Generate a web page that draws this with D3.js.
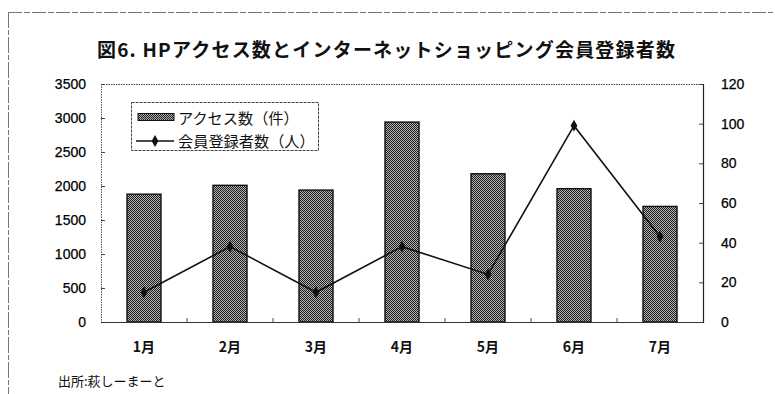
<!DOCTYPE html>
<html><head><meta charset="utf-8">
<script src="https://cdn.jsdelivr.net/npm/d3@7"></script>
<style>
body{margin:0;background:#fff;}
svg{display:block;}
</style></head>
<body>
<svg id="c" width="775" height="394"></svg>
<script>
const titleText = "図6. HPアクセス数とインターネットショッピング会員登録者数";
const months = ["1月","2月","3月","4月","5月","6月","7月"];
const accessCounts = [1880, 2010, 1940, 2940, 2180, 1960, 1700];
const memberCounts = [15, 38, 15, 38, 24, 99, 43];
const leftTicks = [0,500,1000,1500,2000,2500,3000,3500];
const rightTicks = [0,20,40,60,80,100,120];
const seriesNames = ["アクセス数（件）", "会員登録者数（人）"];
const sourceText = "出所:萩しーまーと";

const svg = d3.select("#c");
const W = 775, H = 394;
const m = {l:101, r:703, t:84, b:322};
const numFont = "'Liberation Sans', Arial, sans-serif";
const jpFont = "'Noto Sans CJK JP', sans-serif";

// pattern
const defs = svg.append("defs");
const pat = defs.append("pattern").attr("id","chk").attr("width",2).attr("height",2)
  .attr("patternUnits","userSpaceOnUse");
pat.append("rect").attr("width",2).attr("height",2).attr("fill","#b4b4b4");
pat.append("rect").attr("width",1).attr("height",1).attr("fill","#1e1e1e");
pat.append("rect").attr("x",1).attr("y",1).attr("width",1).attr("height",1).attr("fill","#1e1e1e");

// outer frame
svg.append("line").attr("x1",8).attr("x2",773).attr("y1",12.5).attr("y2",12.5)
  .attr("stroke","#777").attr("stroke-width",1).attr("stroke-dasharray","14 2 6 2");
svg.append("line").attr("x1",8.5).attr("x2",8.5).attr("y1",12).attr("y2",H)
  .attr("stroke","#777").attr("stroke-width",1).attr("stroke-dasharray","16 2 5 2");

// title
svg.append("text").attr("x",97).attr("y",57)
  .attr("textLength",578).attr("lengthAdjust","spacing")
  .attr("font-family",jpFont).attr("font-weight","bold").attr("font-size",19)
  .attr("fill","#111").text(titleText);

const xc = d3.scalePoint().domain(months).range([m.l, m.r]).padding(0.5);
const yL = d3.scaleLinear().domain([0,3500]).range([m.b, m.t]);
const yR = d3.scaleLinear().domain([0,120]).range([m.b, m.t]);

// plot border (dotted top & left)
svg.append("line").attr("x1",m.l).attr("x2",m.r).attr("y1",m.t+0.5).attr("y2",m.t+0.5)
  .attr("stroke","#444").attr("stroke-dasharray","1.5 1");
svg.append("line").attr("x1",m.l+0.5).attr("x2",m.l+0.5).attr("y1",m.t).attr("y2",m.b)
  .attr("stroke","#555").attr("stroke-dasharray","1.5 1");

// bars
const bw = 34;
svg.append("g").selectAll("rect").data(accessCounts).join("rect")
  .attr("x",(d,i)=>xc(months[i]) - bw/2)
  .attr("width",bw)
  .attr("y",d=>yL(d))
  .attr("height",d=>yL(0)-yL(d))
  .attr("fill","url(#chk)").attr("stroke","#111").attr("stroke-width",1.4);

// left axis
const gL = svg.append("g").attr("transform",`translate(${m.l},0)`)
  .call(d3.axisLeft(yL).tickValues(leftTicks).tickSize(-4).tickPadding(15).tickFormat(d3.format("d")));
gL.select(".domain").remove();
gL.selectAll("line").attr("stroke","#444");
gL.selectAll("text").attr("font-family",numFont).attr("font-size",14).attr("fill","#000")
  .attr("stroke","#000").attr("stroke-width",0.25);

// right axis
const gR = svg.append("g").attr("transform",`translate(${m.r},0)`)
  .call(d3.axisRight(yR).tickValues(rightTicks).tickSize(-4).tickPadding(18));
gR.select(".domain").attr("stroke","#222").attr("stroke-width",1.2);
gR.selectAll("line").attr("stroke","#444");
gR.selectAll("text").attr("font-family",numFont).attr("font-size",14).attr("fill","#000")
  .attr("stroke","#000").attr("stroke-width",0.25);

// bottom axis
const bounds = months.slice(1).map((d,i)=> (xc(months[i])+xc(d))/2);
svg.append("line").attr("x1",m.l).attr("x2",m.r).attr("y1",m.b+0.5).attr("y2",m.b+0.5)
  .attr("stroke","#333").attr("stroke-width",1.2);
svg.append("g").selectAll("line").data(bounds).join("line")
  .attr("x1",d=>d).attr("x2",d=>d).attr("y1",m.b).attr("y2",m.b-4)
  .attr("stroke","#444");
svg.append("g").selectAll("text").data(months).join("text")
  .attr("x",d=>xc(d)).attr("y",352).attr("text-anchor","middle")
  .attr("font-family",jpFont).attr("font-weight","bold").attr("font-size",14).attr("fill","#111")
  .text(d=>d);

// line
const line = d3.line().x((d,i)=>xc(months[i])).y(d=>yR(d));
svg.append("path").datum(memberCounts).attr("d",line)
  .attr("fill","none").attr("stroke","#111").attr("stroke-width",1.6);
const diamond = d3.symbol().type(d3.symbolDiamond).size(40);
svg.append("g").selectAll("path").data(memberCounts).join("path")
  .attr("transform",(d,i)=>`translate(${xc(months[i])},${yR(d)})`)
  .attr("d",diamond).attr("fill","#111");

// legend
const lg = svg.append("g");
lg.append("rect").attr("x",131.5).attr("y",102.5).attr("width",187).attr("height",48)
  .attr("fill","#fff").attr("stroke","#444").attr("stroke-dasharray","3 1");
lg.append("rect").attr("x",138).attr("y",113.5).attr("width",36).attr("height",7)
  .attr("fill","url(#chk)").attr("stroke","#111");
lg.append("text").attr("x",178).attr("y",123.5).attr("font-family",jpFont)
  .attr("font-size",15.2).attr("fill","#111").text(seriesNames[0]);
lg.append("line").attr("x1",136).attr("x2",174).attr("y1",141).attr("y2",141)
  .attr("stroke","#111").attr("stroke-width",1.4);
lg.append("path").attr("transform","translate(155,141)").attr("d",diamond).attr("fill","#111");
lg.append("text").attr("x",178).attr("y",147).attr("font-family",jpFont)
  .attr("font-size",15.2).attr("fill","#111").text(seriesNames[1]);

// source
svg.append("text").attr("x",58).attr("y",386).attr("font-family",jpFont)
  .attr("font-size",13).attr("fill","#111").text(sourceText);
</script>
</body></html>
